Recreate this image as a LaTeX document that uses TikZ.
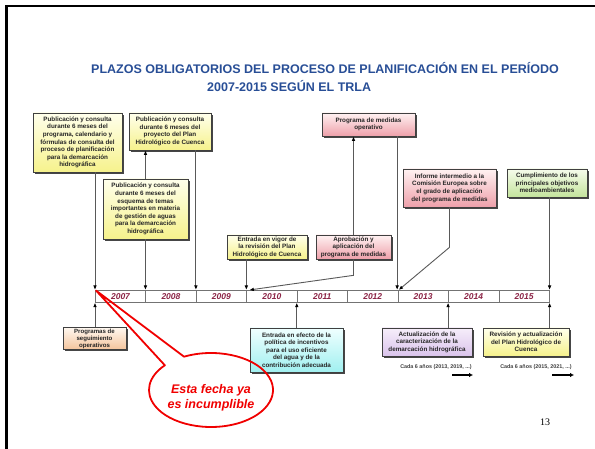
\documentclass[tikz,border=0pt]{standalone}
\usepackage{fontspec}
\setmainfont{Liberation Sans}
\newfontfamily\pagenumfont{Liberation Serif}
\usetikzlibrary{arrows.meta,shadows,calc}
\definecolor{titleblue}{RGB}{40,78,150}
\definecolor{yearred}{RGB}{140,36,70}
\definecolor{ylwTop}{RGB}{255,255,236}
\definecolor{ylwBot}{RGB}{246,242,140}
\definecolor{pnkTop}{RGB}{255,242,242}
\definecolor{pnkBot}{RGB}{238,160,170}
\definecolor{grnTop}{RGB}{246,252,236}
\definecolor{grnBot}{RGB}{196,228,156}
\definecolor{orgTop}{RGB}{255,248,240}
\definecolor{orgBot}{RGB}{244,196,156}
\definecolor{cynTop}{RGB}{240,255,255}
\definecolor{cynBot}{RGB}{160,240,240}
\definecolor{lavTop}{RGB}{246,238,250}
\definecolor{lavBot}{RGB}{218,196,236}
\definecolor{calloutred}{RGB}{240,0,0}
\begin{document}
\begin{tikzpicture}[x=1pt,y=-1pt,
  box/.style={draw=black!75, line width=0.7pt, align=center, inner sep=0pt, text=black!85,
    font=\fontsize{6.3}{7.6}\selectfont\bfseries,
    drop shadow={shadow xshift=1.8pt, shadow yshift=-1.8pt, fill=black!85, opacity=0.85}},
  ylw/.style={box, top color=ylwTop, bottom color=ylwBot},
  pnk/.style={box, top color=pnkTop, bottom color=pnkBot},
  grn/.style={box, top color=grnTop, bottom color=grnBot},
  org/.style={box, top color=orgTop, bottom color=orgBot},
  cyn/.style={box, top color=cynTop, bottom color=cynBot},
  lav/.style={box, top color=lavTop, bottom color=lavBot},
  yearcell/.style={draw=black!55, line width=0.6pt, fill=white, minimum width=50.444pt,
    minimum height=12pt, inner sep=0pt, anchor=north west, text=yearred,
    font=\fontsize{8.5}{9}\selectfont\bfseries\itshape},
  conn/.style={draw=black!65, line width=0.9pt},
  arr/.style={conn, -{Latex[length=4.5pt,width=3.6pt,color=black]}},
  bigarr/.style={draw=black, line width=1.6pt, -{Latex[length=4pt,width=4.5pt]}},
  caption/.style={text=black!75, font=\fontsize{5.4}{6}\selectfont\bfseries, inner sep=0pt},
  titletext/.style={text=titleblue, font=\fontsize{12.5}{14}\selectfont\bfseries, inner sep=0pt},
  warntext/.style={text=calloutred, align=center, inner sep=0pt,
    font=\fontsize{12.5}{14.5}\selectfont\bfseries\itshape},
  callout/.style={draw=calloutred, line width=1.8pt, line join=round}
]
\useasboundingbox (0,0) rectangle (595,449);
% slide frame
\draw[line width=2.5pt] (6.5,449) -- (6.5,6) -- (595,6);

% title
\node[titletext] (title1) at (325,68) {PLAZOS OBLIGATORIOS DEL PROCESO DE PLANIFICACIÓN EN EL PERÍODO};
\node[titletext, anchor=west] (title2) at (207,86) {2007-2015 SEGÚN EL TRLA};

% time band
\foreach \yr [count=\i from 0] in {2007,2008,2009,2010,2011,2012,2013,2014,2015}
  \node[yearcell] (y\yr) at ({95+\i*50.444},290) {\yr};

% boxes above
\node[ylw, minimum width=89pt, minimum height=59pt] (pubprog) at (77.5,142.5)
  {Publicación y consulta\\durante 6 meses del\\programa, calendario y\\fórmulas de consulta del\\proceso de planificación\\para la demarcación\\hidrográfica};
\node[ylw, minimum width=82pt, minimum height=37pt] (pubproy) at (170,131.5)
  {Publicación y consulta\\durante 6 meses del\\proyecto del Plan\\Hidrológico de Cuenca};
\node[ylw, minimum width=85pt, minimum height=60pt] (esquema) at (145.5,209)
  {Publicación y consulta\\durante 6 meses del\\esquema de temas\\importantes en materia\\de gestión de aguas\\para la demarcación\\hidrográfica};
\node[ylw, minimum width=80pt, minimum height=24pt] (vigor) at (267,247)
  {Entrada en vigor de\\la revisión del Plan\\Hidrológico de Cuenca};
\node[pnk, minimum width=75pt, minimum height=24pt] (aprob) at (353.5,247)
  {Aprobación y\\aplicación del\\programa de medidas};
\node[pnk, minimum width=93pt, minimum height=23pt] (progop) at (368.5,124.5)
  {Programa de medidas\\operativo};
\node[pnk, minimum width=93pt, minimum height=38pt] (informe) at (449.5,188)
  {Informe intermedio a la\\Comisión Europea sobre\\el grado de aplicación\\del programa de medidas};
\node[grn, minimum width=80pt, minimum height=28pt] (cumpl) at (547,183)
  {Cumplimiento de los\\principales objetivos\\medioambientales};

% boxes below
\node[org, minimum width=63pt, minimum height=22pt, font=\fontsize{6.1}{7}\selectfont\bfseries] (seguim) at (94.5,338.5)
  {Programas de\\seguimiento\\operativos};
\node[cyn, minimum width=93pt, minimum height=44pt] (efecto) at (296.5,350)
  {Entrada en efecto de la\\política de incentivos\\para el uso eficiente\\del agua y de la\\contribución adecuada};
\node[lav, minimum width=90pt, minimum height=28pt] (actual) at (427,342)
  {Actualización de la\\caracterización de la\\demarcación hidrográfica};
\node[ylw, minimum width=86pt, minimum height=28pt] (revis) at (526,342)
  {Revisión y actualización\\del Plan Hidrológico de\\Cuenca};

% captions
\node[caption] (cap1) at (436,367.5) {Cada 6 años (2013, 2019, ...)};
\node[caption] (cap2) at (536,367.5) {Cada 6 años (2015, 2021, ...)};
\coordinate (a1s) at (452,375);
\coordinate (a1e) at (473,375);
\coordinate (a2s) at (552,375);
\coordinate (a2e) at (574,375);
\draw[bigarr] (a1s) -- (a1e);
\draw[bigarr] (a2s) -- (a2e);

% connectors above the band
\draw[arr] (pubprog.south -| y2007.north west) -- (y2007.north west);
\draw[arr] (esquema.south -| y2008.north west) -- (y2008.north west);
\draw[arr] (esquema.north) -- (esquema.north |- pubproy.south);
\draw[arr] (pubproy.south -| y2009.north west) -- (y2009.north west);
\draw[arr] (vigor.south -| y2010.north west) -- (y2010.north west);
\draw[arr] (aprob.south) -- ++(0,16) -- ([xshift=3pt]y2010.north west);
\draw[arr] (aprob.north) -- (aprob.north |- progop.south);
\draw[arr] ([xshift=-0.5pt]progop.south -| y2013.north west) -- ([xshift=-0.5pt]y2013.north west);
\draw[arr] (informe.south) -- ++(0,40) -- ([xshift=1pt]y2013.north west);
\draw[arr] (cumpl.south -| y2015.north east) -- (y2015.north east);

% connectors below the band
\draw[arr] (seguim.north -| y2007.south west) -- (y2007.south west);
\draw[arr] (efecto.north -| y2011.south west) -- (y2011.south west);
\draw[arr] (actual.north -| y2014.south west) -- (y2014.south west);
\draw[arr] (revis.north -| y2015.south east) -- (y2015.south east);

% red callout
\coordinate (ec) at (211,390);
\coordinate (tip) at (96,290.5);
\draw[callout] (tip) -- ([shift={(244.2:62 and 37)}]ec)
  arc[start angle=244.2, end angle=581.9, x radius=62, y radius=37] -- cycle;
\node[warntext] (warn) at (211,398) {Esta fecha ya\\es incumplible};

% page number
\node[inner sep=0pt, font=\pagenumfont\fontsize{10}{12}\selectfont] (pagenum) at (545,422) {13};
\end{tikzpicture}
\end{document}
